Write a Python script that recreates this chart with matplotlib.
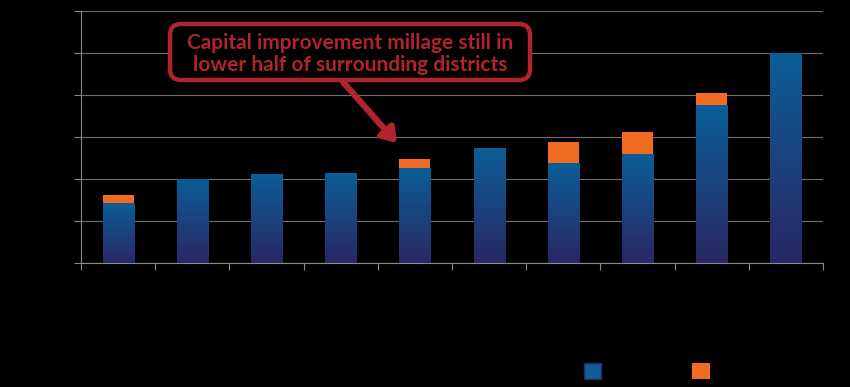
import numpy as np
import matplotlib.pyplot as plt
from matplotlib.colors import LinearSegmentedColormap
from matplotlib.patches import FancyBboxPatch, Patch

# millage by district (blue = base, orange = capital improvement)
districts = ["D1", "D2", "D3", "D4", "D5", "D6", "D7", "D8", "D9", "D10"]
base_mills = [2.86, 4.0, 4.24, 4.29, 4.52, 5.48, 4.76, 5.19, 7.52, 10.0]
capital_mills = [0.38, 0.0, 0.0, 0.0, 0.43, 0.0, 1.0, 1.05, 0.57, 0.0]
series_names = ["Operating", "Capital"]
callout = "Capital improvement millage still in\nlower half of surrounding districts"

blue_top = "#0b5e98"
blue_bottom = "#2a2765"
orange = "#f26b22"
red = "#b0232f"

fig = plt.figure(figsize=(8.5, 3.87), dpi=100, facecolor="black")
ax = fig.add_axes([81 / 850, 1 - 263 / 387, 742 / 850, 252 / 387])
ax.set_facecolor("black")

x = np.arange(len(districts))
width = 0.42
bars = ax.bar(x, base_mills, width, color="none", edgecolor="none", label=series_names[0])
ax.bar(x, capital_mills, width, bottom=base_mills, color=orange, label=series_names[1])

# vertical gradient inside each blue bar
cmap = LinearSegmentedColormap.from_list("grad", [blue_bottom, blue_top])
grad = np.linspace(0, 1, 256).reshape(-1, 1)
for b in bars:
    bx, by = b.get_x(), b.get_y()
    im = ax.imshow(grad, cmap=cmap, aspect="auto", origin="lower",
                   extent=[bx, bx + b.get_width(), by, by + b.get_height()], zorder=2)
    im.set_clip_path(b)
    b.set_zorder(2)

ax.set_xlim(-0.5, len(districts) - 0.5)
ax.set_ylim(0, 12)
ax.set_yticks(np.arange(0, 13, 2))
ax.set_xticks(np.arange(-0.5, len(districts), 1))
ax.set_xticklabels([])
ax.set_yticklabels([])
ax.grid(axis="y", color="#6e6e6e", linewidth=0.8)
ax.set_axisbelow(True)
for s in ["top", "right"]:
    ax.spines[s].set_visible(False)
for s in ["left", "bottom"]:
    ax.spines[s].set_color("#8a8a8a")
ax.tick_params(colors="#8a8a8a", length=5, direction="out")

# legend swatches at the bottom
handles = [Patch(facecolor=blue_top, edgecolor=blue_bottom), Patch(facecolor=orange)]
leg = fig.legend(handles, series_names, loc="center left", ncol=2,
                 bbox_to_anchor=(571 / 850, 1 - 371 / 387), frameon=False,
                 handlelength=1.25, handleheight=1.5, columnspacing=0.76,
                 labelcolor="black", fontsize=10)

# overlay in pixel coordinates for the callout
ov = fig.add_axes([0, 0, 1, 1], facecolor="none")
ov.set_xlim(0, 850)
ov.set_ylim(387, 0)
ov.axis("off")
ov.add_patch(FancyBboxPatch((170, 24), 360, 56,
                            boxstyle="round,pad=0,rounding_size=11",
                            facecolor="black", edgecolor=red, linewidth=3.2))
ov.text(350, 54, callout, ha="center", va="center",
        color=red, fontsize=15, fontweight="bold", family="Lato", linespacing=1.15)
ov.annotate("", xy=(397, 143), xytext=(343, 82),
            arrowprops=dict(arrowstyle="-|>,head_width=0.55,head_length=0.8",
                            color=red, linewidth=4.5, shrinkA=0, shrinkB=0))

fig.savefig("out.png", dpi=100, facecolor="black")
